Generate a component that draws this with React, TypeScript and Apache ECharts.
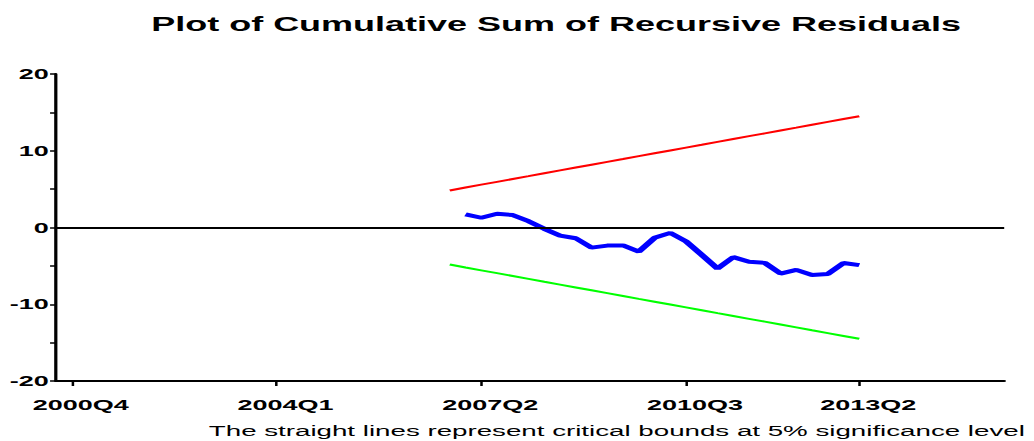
import React, { useEffect, useRef } from "react";
import * as echarts from "echarts";

// ---- data ----
const titleText = "Plot of Cumulative Sum of Recursive Residuals";
const footnoteText = "The straight lines represent critical bounds at 5% significance level";

// quarter index 0 = 2000Q4
const axisStartQuarter = "2000Q4";
const tickLabels = ["2000Q4", "2004Q1", "2007Q2", "2010Q3", "2013Q2"];

const boundsStart = "2006Q4";
const cusumStart = "2007Q1";

const upperBound = [
  4.83, 5.21, 5.58, 5.95, 6.32, 6.69, 7.07, 7.44, 7.81, 8.18, 8.55, 8.92, 9.3, 9.67,
  10.04, 10.41, 10.78, 11.16, 11.53, 11.9, 12.27, 12.64, 13.01, 13.39, 13.76, 14.13, 14.5,
];
const lowerBound = [
  -4.83, -5.21, -5.58, -5.95, -6.32, -6.69, -7.07, -7.44, -7.81, -8.18, -8.55, -8.92, -9.3, -9.67,
  -10.04, -10.41, -10.78, -11.16, -11.53, -11.9, -12.27, -12.64, -13.01, -13.39, -13.76, -14.13, -14.5,
];
const cusum = [
  1.7, 1.27, 1.79, 1.62, 0.83, -0.17, -1.05, -1.4, -2.62, -2.36, -2.34, -3.15, -1.35,
  -0.7, -1.81, -3.56, -5.35, -3.86, -4.45, -4.61, -6.0, -5.52, -6.2, -6.07, -4.62, -4.91,
];

const yTickLabels = [-20, -10, 0, 10, 20];

// ---- helpers ----
const qNum = (q: string) => {
  const y = parseInt(q.slice(0, 4), 10);
  const k = parseInt(q.slice(5), 10);
  return y * 4 + (k - 1);
};
const base = qNum(axisStartQuarter);
const qIndex = (q: string) => qNum(q) - base;
const qName = (idx: number) => {
  const n = Math.round(idx) + base;
  return `${Math.floor(n / 4)}Q${(n % 4) + 1}`;
};

const S = 1.8; // horizontal stretch of the reference
const W = 1034 / S;
const H = 441;
const FONT = "'Liberation Sans', Arial, Helvetica, sans-serif";

export default function App() {
  const ref = useRef<HTMLDivElement>(null);

  useEffect(() => {
    if (!ref.current) return;
    const chart = echarts.init(ref.current, null, { renderer: "svg" });
    const tickValues = tickLabels.map(qIndex);
    const b0 = qIndex(boundsStart);
    const c0 = qIndex(cusumStart);
    const xMin = -1;
    const xMax = 59.2;
    const yMin = yTickLabels[0];
    const yMax = yTickLabels[yTickLabels.length - 1];

    chart.setOption({
      animation: false,
      backgroundColor: "#ffffff",
      title: [
        {
          text: titleText,
          left: 84,
          top: 14.5,
          padding: 0,
          textStyle: { fontFamily: FONT, fontWeight: "bold", fontSize: 20, color: "#000" },
        },
        {
          text: footnoteText,
          left: 116,
          top: 423,
          padding: 0,
          textStyle: { fontFamily: FONT, fontWeight: "normal", fontSize: 15.4, color: "#000" },
        },
      ],
      grid: { left: 56 / S, right: W - 1005 / S, top: 74, bottom: H - 381, containLabel: false },
      xAxis: {
        type: "value",
        position: "bottom",
        min: xMin,
        max: xMax,
        axisLine: { show: true, onZero: false, lineStyle: { color: "#000", width: 2 } },
        axisTick: {
          show: true,
          customValues: tickValues,
          length: 5,
          lineStyle: { color: "#000", width: 1.4 },
        },
        axisLabel: {
          show: true,
          customValues: tickValues,
          formatter: (v: number) => qName(v),
          fontFamily: FONT,
          fontWeight: "bold",
          fontSize: 15,
          color: "#000",
          margin: 16,
          padding: [0, 0, 0, 10],
        },
        splitLine: { show: false },
      },
      yAxis: {
        type: "value",
        position: "left",
        min: yMin,
        max: yMax,
        interval: 10,
        axisLine: { show: true, onZero: false, lineStyle: { color: "#000", width: 1.8 } },
        axisTick: { show: true, length: 3.3, lineStyle: { color: "#000", width: 1.5 } },
        minorTick: { show: true, splitNumber: 2, length: 3.3, lineStyle: { color: "#000", width: 1.5 } },
        axisLabel: {
          fontFamily: FONT,
          fontWeight: "bold",
          fontSize: 15,
          color: "#000",
          margin: 4,
        },
        splitLine: { show: false },
        minorSplitLine: { show: false },
      },
      series: [
        {
          name: "Upper bound",
          type: "line",
          data: upperBound.map((v, i) => [b0 + i, v]),
          showSymbol: false,
          symbol: "none",
          lineStyle: { color: "#ff0000", width: 2 },
          markLine: {
            silent: true,
            symbol: ["none", "none"],
            label: { show: false },
            lineStyle: { color: "#000", width: 2, type: "solid" },
            data: [{ yAxis: 0 }],
          },
        },
        {
          name: "Lower bound",
          type: "line",
          data: lowerBound.map((v, i) => [b0 + i, v]),
          showSymbol: false,
          symbol: "none",
          lineStyle: { color: "#00ff00", width: 2 },
        },
        {
          name: "CUSUM",
          type: "line",
          data: cusum.map((v, i) => [c0 + i, v]),
          showSymbol: false,
          symbol: "none",
          lineStyle: { color: "#0000ff", width: 4 },
        },
      ],
    });

    return () => chart.dispose();
  }, []);

  return (
    <div
      style={{
        position: "fixed",
        left: 0,
        top: 0,
        width: 1034,
        height: H,
        overflow: "hidden",
        background: "#fff",
      }}
    >
      <div
        ref={ref}
        style={{ width: W, height: H, transform: `scaleX(${S})`, transformOrigin: "0 0" }}
      />
    </div>
  );
}
